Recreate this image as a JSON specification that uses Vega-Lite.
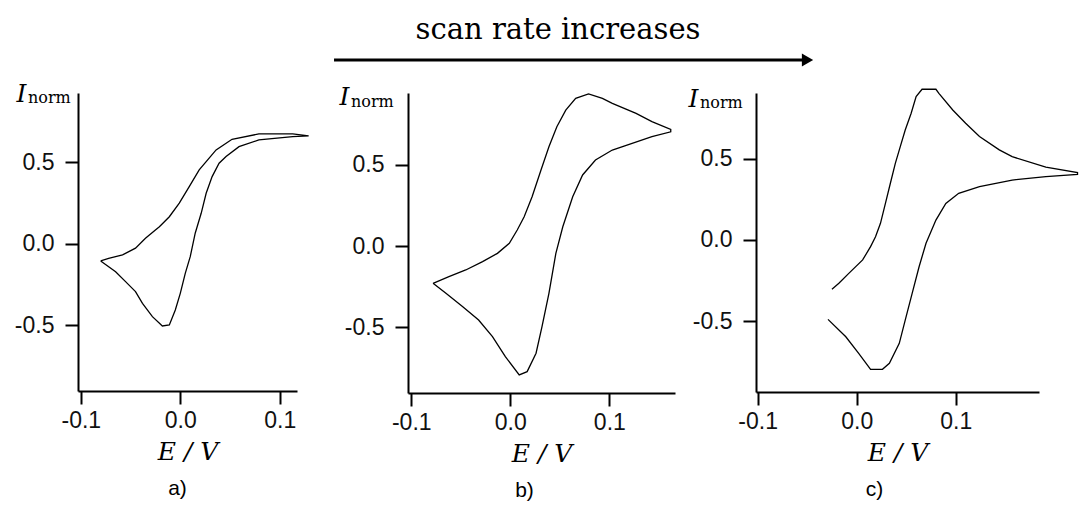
{
  "$schema": "https://vega.github.io/schema/vega-lite/v6.json",
  "background": "white",
  "padding": {"left": 14, "top": 16, "right": 0, "bottom": 0},
  "datasets": {
    "a": [
      {"i": 1, "E": -0.080, "I": -0.104}, {"i": 2, "E": -0.065, "I": -0.170}, {"i": 3, "E": -0.055, "I": -0.231},
      {"i": 4, "E": -0.045, "I": -0.292}, {"i": 5, "E": -0.038, "I": -0.364}, {"i": 6, "E": -0.028, "I": -0.446},
      {"i": 7, "E": -0.018, "I": -0.503}, {"i": 8, "E": -0.011, "I": -0.497}, {"i": 9, "E": -0.005, "I": -0.405},
      {"i": 10, "E": 0.000, "I": -0.303}, {"i": 11, "E": 0.005, "I": -0.180}, {"i": 12, "E": 0.010, "I": -0.078},
      {"i": 13, "E": 0.015, "I": 0.066}, {"i": 14, "E": 0.021, "I": 0.188}, {"i": 15, "E": 0.026, "I": 0.311},
      {"i": 16, "E": 0.032, "I": 0.413}, {"i": 17, "E": 0.039, "I": 0.495}, {"i": 18, "E": 0.046, "I": 0.536},
      {"i": 19, "E": 0.059, "I": 0.597}, {"i": 20, "E": 0.079, "I": 0.638}, {"i": 21, "E": 0.113, "I": 0.658},
      {"i": 22, "E": 0.129, "I": 0.663}, {"i": 23, "E": 0.113, "I": 0.675}, {"i": 24, "E": 0.079, "I": 0.675},
      {"i": 25, "E": 0.052, "I": 0.642}, {"i": 26, "E": 0.036, "I": 0.577}, {"i": 27, "E": 0.019, "I": 0.454},
      {"i": 28, "E": 0.009, "I": 0.352}, {"i": 29, "E": -0.001, "I": 0.250}, {"i": 30, "E": -0.011, "I": 0.167},
      {"i": 31, "E": -0.021, "I": 0.106}, {"i": 32, "E": -0.025, "I": 0.086}, {"i": 33, "E": -0.035, "I": 0.035},
      {"i": 34, "E": -0.045, "I": -0.026}, {"i": 35, "E": -0.058, "I": -0.067}, {"i": 36, "E": -0.072, "I": -0.088},
      {"i": 37, "E": -0.080, "I": -0.104}
    ],
    "b": [
      {"i": 1, "E": -0.078, "I": -0.229}, {"i": 2, "E": -0.065, "I": -0.290}, {"i": 3, "E": -0.048, "I": -0.372},
      {"i": 4, "E": -0.032, "I": -0.454}, {"i": 5, "E": -0.018, "I": -0.556}, {"i": 6, "E": -0.005, "I": -0.679},
      {"i": 7, "E": 0.009, "I": -0.791}, {"i": 8, "E": 0.017, "I": -0.771}, {"i": 9, "E": 0.026, "I": -0.658},
      {"i": 10, "E": 0.032, "I": -0.495}, {"i": 11, "E": 0.039, "I": -0.290}, {"i": 12, "E": 0.046, "I": -0.045},
      {"i": 13, "E": 0.053, "I": 0.118}, {"i": 14, "E": 0.063, "I": 0.302}, {"i": 15, "E": 0.073, "I": 0.436},
      {"i": 16, "E": 0.086, "I": 0.528}, {"i": 17, "E": 0.103, "I": 0.589}, {"i": 18, "E": 0.123, "I": 0.630},
      {"i": 19, "E": 0.143, "I": 0.671}, {"i": 20, "E": 0.162, "I": 0.701}, {"i": 21, "E": 0.162, "I": 0.715},
      {"i": 22, "E": 0.143, "I": 0.763}, {"i": 23, "E": 0.127, "I": 0.814}, {"i": 24, "E": 0.103, "I": 0.875},
      {"i": 25, "E": 0.093, "I": 0.906}, {"i": 26, "E": 0.079, "I": 0.933}, {"i": 27, "E": 0.066, "I": 0.906},
      {"i": 28, "E": 0.056, "I": 0.834}, {"i": 29, "E": 0.047, "I": 0.732}, {"i": 30, "E": 0.039, "I": 0.609},
      {"i": 31, "E": 0.031, "I": 0.466}, {"i": 32, "E": 0.022, "I": 0.302}, {"i": 33, "E": 0.014, "I": 0.180},
      {"i": 34, "E": 0.007, "I": 0.098}, {"i": 35, "E": -0.001, "I": 0.017}, {"i": 36, "E": -0.013, "I": -0.045},
      {"i": 37, "E": -0.028, "I": -0.096}, {"i": 38, "E": -0.045, "I": -0.147}, {"i": 39, "E": -0.062, "I": -0.188},
      {"i": 40, "E": -0.078, "I": -0.229}
    ],
    "c": [
      {"i": 1, "E": -0.029, "I": -0.490}, {"i": 2, "E": -0.011, "I": -0.597}, {"i": 3, "E": 0.002, "I": -0.700},
      {"i": 4, "E": 0.014, "I": -0.798}, {"i": 5, "E": 0.026, "I": -0.798}, {"i": 6, "E": 0.033, "I": -0.761},
      {"i": 7, "E": 0.043, "I": -0.638}, {"i": 8, "E": 0.049, "I": -0.494}, {"i": 9, "E": 0.056, "I": -0.329},
      {"i": 10, "E": 0.063, "I": -0.165}, {"i": 11, "E": 0.070, "I": -0.020}, {"i": 12, "E": 0.080, "I": 0.123},
      {"i": 13, "E": 0.090, "I": 0.226}, {"i": 14, "E": 0.103, "I": 0.288}, {"i": 15, "E": 0.124, "I": 0.329},
      {"i": 16, "E": 0.157, "I": 0.370}, {"i": 17, "E": 0.191, "I": 0.391}, {"i": 18, "E": 0.223, "I": 0.405},
      {"i": 19, "E": 0.223, "I": 0.416}, {"i": 20, "E": 0.191, "I": 0.449}, {"i": 21, "E": 0.157, "I": 0.514},
      {"i": 22, "E": 0.144, "I": 0.556}, {"i": 23, "E": 0.124, "I": 0.638}, {"i": 24, "E": 0.110, "I": 0.720},
      {"i": 25, "E": 0.097, "I": 0.802}, {"i": 26, "E": 0.083, "I": 0.905}, {"i": 27, "E": 0.080, "I": 0.930},
      {"i": 28, "E": 0.066, "I": 0.930}, {"i": 29, "E": 0.060, "I": 0.885}, {"i": 30, "E": 0.055, "I": 0.782},
      {"i": 31, "E": 0.049, "I": 0.679}, {"i": 32, "E": 0.044, "I": 0.576}, {"i": 33, "E": 0.039, "I": 0.473},
      {"i": 34, "E": 0.034, "I": 0.350}, {"i": 35, "E": 0.029, "I": 0.226}, {"i": 36, "E": 0.024, "I": 0.103},
      {"i": 37, "E": 0.019, "I": 0.020}, {"i": 38, "E": 0.014, "I": -0.041}, {"i": 39, "E": 0.006, "I": -0.123},
      {"i": 40, "E": -0.008, "I": -0.206}, {"i": 41, "E": -0.018, "I": -0.267}, {"i": 42, "E": -0.025, "I": -0.304}
    ]
  },
  "config": {
    "view": {"stroke": null},
    "axis": {
      "grid": false,
      "domainColor": "black", "domainWidth": 2,
      "tickColor": "black", "tickWidth": 2, "tickSize": 13,
      "labelFont": "Liberation Sans Narrow, Liberation Sans", "labelFontSize": 23, "labelColor": "#111",
      "titleFont": "DejaVu Serif", "titleFontStyle": "italic", "titleFontWeight": "normal", "titleFontSize": 25, "titleColor": "black"
    },
    "axisX": {"labelPadding": 5, "titlePadding": 7},
    "axisY": {"labelPadding": 11},
    "title": {"font": "Liberation Sans", "fontSize": 21, "fontWeight": "normal", "color": "black", "offset": 14}
  },
  "bounds": "flush",
  "spacing": 111,
  "hconcat": [
    {
      "width": 219, "height": 298,
      "title": {"text": "a)", "orient": "bottom", "frame": "group", "anchor": "middle", "dx": -10},
      "layer": [
        {
          "data": {"name": "a"},
          "mark": {"type": "line", "color": "black", "strokeWidth": 1.3},
          "encoding": {
            "x": {"field": "E", "type": "quantitative", "scale": {"domain": [-0.1028, 0.1173], "nice": false, "zero": false},
                  "axis": {"values": [-0.1, 0, 0.1], "labelExpr": "(datum.value < 0 ? '-' : '') + format(abs(datum.value), '.1f')", "title": "E / V"}},
            "y": {"field": "I", "type": "quantitative", "scale": {"domain": [-0.902, 0.926], "nice": false, "zero": false},
                  "axis": {"values": [-0.5, 0, 0.5], "labelExpr": "(datum.value < 0 ? '-' : '') + format(abs(datum.value), '.1f')", "title": "I", "titleAngle": 0, "titleAlign": "left", "titleBaseline": "alphabetic", "titleX": -62, "titleY": 8}},
            "order": {"field": "i", "type": "quantitative"}
          }
        },
        {
          "data": {"values": [{}]},
          "mark": {"type": "text", "text": "norm", "font": "DejaVu Serif", "fontSize": 16, "align": "left", "baseline": "alphabetic", "dx": -50, "dy": 10, "color": "black"},
          "encoding": {"x": {"datum": -0.1028, "type": "quantitative"}, "y": {"datum": 0.926, "type": "quantitative"}}
        }
      ]
    },
    {
      "bounds": "flush",
      "spacing": 81,
      "hconcat": [
        {
          "width": 267, "height": 300,
          "title": {"text": "b)", "orient": "bottom", "frame": "group", "anchor": "middle", "dx": -17},
          "layer": [
            {
              "data": {"name": "b"},
              "mark": {"type": "line", "color": "black", "strokeWidth": 1.3},
              "encoding": {
                "x": {"field": "E", "type": "quantitative", "scale": {"domain": [-0.1033, 0.1663], "nice": false, "zero": false},
                      "axis": {"values": [-0.1, 0, 0.1], "labelExpr": "(datum.value < 0 ? '-' : '') + format(abs(datum.value), '.1f')", "title": "E / V"}},
                "y": {"field": "I", "type": "quantitative", "scale": {"domain": [-0.902, 0.939], "nice": false, "zero": false},
                      "axis": {"values": [-0.5, 0, 0.5], "labelExpr": "(datum.value < 0 ? '-' : '') + format(abs(datum.value), '.1f')", "title": "I", "titleAngle": 0, "titleAlign": "left", "titleBaseline": "alphabetic", "titleX": -69, "titleY": 11}},
                "order": {"field": "i", "type": "quantitative"}
              }
            },
            {
              "data": {"values": [{}]},
              "mark": {"type": "text", "text": "norm", "font": "DejaVu Serif", "fontSize": 16, "align": "left", "baseline": "alphabetic", "dx": -57, "dy": 14, "color": "black"},
              "encoding": {"x": {"datum": -0.1033, "type": "quantitative"}, "y": {"datum": 0.939, "type": "quantitative"}}
            },
            {
              "data": {"values": [{}]},
              "mark": {"type": "rule", "color": "black", "strokeWidth": 3},
              "encoding": {"x": {"datum": -0.178, "type": "quantitative"}, "x2": {"datum": 0.2985}, "y": {"datum": 1.1415, "type": "quantitative"}}
            },
            {
              "data": {"values": [{}]},
              "mark": {"type": "point", "shape": "triangle-right", "filled": true, "size": 170, "color": "black", "opacity": 1},
              "encoding": {"x": {"datum": 0.3001, "type": "quantitative"}, "y": {"datum": 1.1415, "type": "quantitative"}}
            },
            {
              "data": {"values": [{}]},
              "mark": {"type": "text", "text": "scan rate increases", "font": "DejaVu Serif", "fontSize": 29, "align": "center", "baseline": "alphabetic", "color": "black"},
              "encoding": {"x": {"datum": 0.0482, "type": "quantitative"}, "y": {"datum": 1.268, "type": "quantitative"}}
            }
          ]
        },
        {
          "width": 283, "height": 299,
          "title": {"text": "c)", "orient": "bottom", "frame": "group", "anchor": "middle", "dx": -23},
          "layer": [
            {
              "data": {"name": "c"},
              "mark": {"type": "line", "color": "black", "strokeWidth": 1.3},
              "encoding": {
                "x": {"field": "E", "type": "quantitative", "scale": {"domain": [-0.1017, 0.1841], "nice": false, "zero": false},
                      "axis": {"values": [-0.1, 0, 0.1], "labelExpr": "(datum.value < 0 ? '-' : '') + format(abs(datum.value), '.1f')", "title": "E / V"}},
                "y": {"field": "I", "type": "quantitative", "scale": {"domain": [-0.938, 0.907], "nice": false, "zero": false},
                      "axis": {"values": [-0.5, 0, 0.5], "labelExpr": "(datum.value < 0 ? '-' : '') + format(abs(datum.value), '.1f')", "title": "I", "titleAngle": 0, "titleAlign": "left", "titleBaseline": "alphabetic", "titleX": -68, "titleY": 13}},
                "order": {"field": "i", "type": "quantitative"}
              }
            },
            {
              "data": {"values": [{}]},
              "mark": {"type": "text", "text": "norm", "font": "DejaVu Serif", "fontSize": 16, "align": "left", "baseline": "alphabetic", "dx": -56, "dy": 15, "color": "black"},
              "encoding": {"x": {"datum": -0.1017, "type": "quantitative"}, "y": {"datum": 0.907, "type": "quantitative"}}
            }
          ]
        }
      ]
    }
  ]
}
